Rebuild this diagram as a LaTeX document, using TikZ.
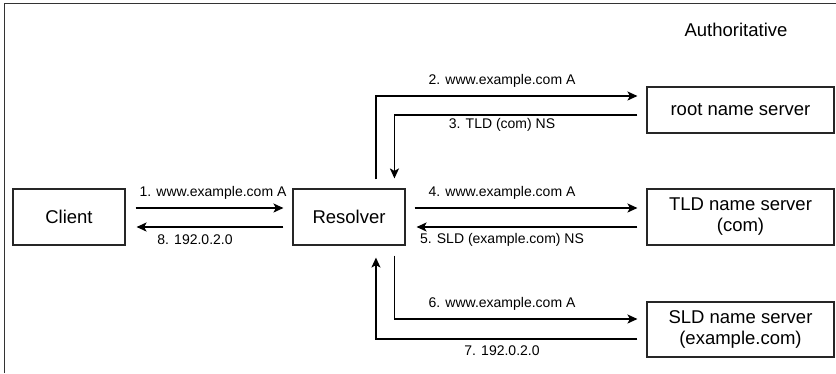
\documentclass[tikz,border=0pt]{standalone}
\usepackage{fontspec}
\setmainfont{Liberation Sans}
\usetikzlibrary{arrows.meta}
\begin{document}
\begin{tikzpicture}[x=1pt,y=-1pt,
  box/.style={draw=black!85,line width=1.1pt,minimum width=112pt,minimum height=56pt,inner sep=0pt,font=\fontsize{18.5}{21}\selectfont,align=center},
  sbox/.style={box,minimum width=187pt},
  lbl/.style={font=\fontsize{14}{16}\selectfont,inner sep=0pt},
  arr/.style={line width=1.8pt,-{Stealth[length=10pt,width=9pt,inset=2.5pt]}}]
\useasboundingbox (0,0) rectangle (836,373);
\draw[line width=1.4pt,black!80] (4.5,373) -- (4.5,3.5) -- (836,3.5);
\node[box] (client) at (69,217) {Client};
\node[box] (res) at (349,217) {Resolver};
\node[sbox,minimum height=46pt] (root) at (740.5,110) {root name server};
\node[sbox] (tld) at (740.5,217) {TLD name server\\(com)};
\node[sbox,minimum height=55pt] (sld) at (740.5,329.5) {SLD name server\\(example.com)};
\node[font=\fontsize{18.5}{21}\selectfont] (auth) at (736,30) {Authoritative};
% client <-> resolver
\draw[arr] ([shift={(10,-9)}]client.east) -- ([shift={(-9,-9)}]res.west);
\draw[arr] ([shift={(-9,10)}]res.west) -- ([shift={(11,10)}]client.east);
% resolver <-> tld
\draw[arr] ([shift={(9,-9)}]res.east) -- ([shift={(-9,-9)}]tld.west);
\draw[arr] ([shift={(-9,10)}]tld.west) -- ([shift={(11,10)}]res.east);
% root
\draw[arr] ([shift={(83.5,-9)}]res.north west) |- ([shift={(-9,-14)}]root.west);
\draw[arr] ([shift={(-9,5)}]root.west) -| ([shift={(102,-10)}]res.north west);
% sld
\draw[arr] ([shift={(102,10)}]res.south west) |- ([shift={(-9,-10.5)}]sld.west);
\draw[arr] ([shift={(-9,9.5)}]sld.west) -| ([shift={(83.5,12)}]res.south west);
% labels
\node[lbl] (l1) at (213,193) {1. www.example.com A};
\node[lbl] (l8) at (195,240) {8. 192.0.2.0};
\node[lbl] (l2) at (502,81) {2. www.example.com A};
\node[lbl] (l3) at (502,125) {3. TLD (com) NS};
\node[lbl] (l4) at (502,193) {4. www.example.com A};
\node[lbl] (l5) at (502,240) {5. SLD (example.com) NS};
\node[lbl] (l6) at (502,304) {6. www.example.com A};
\node[lbl] (l7) at (502,351) {7. 192.0.2.0};
\end{tikzpicture}
\end{document}
